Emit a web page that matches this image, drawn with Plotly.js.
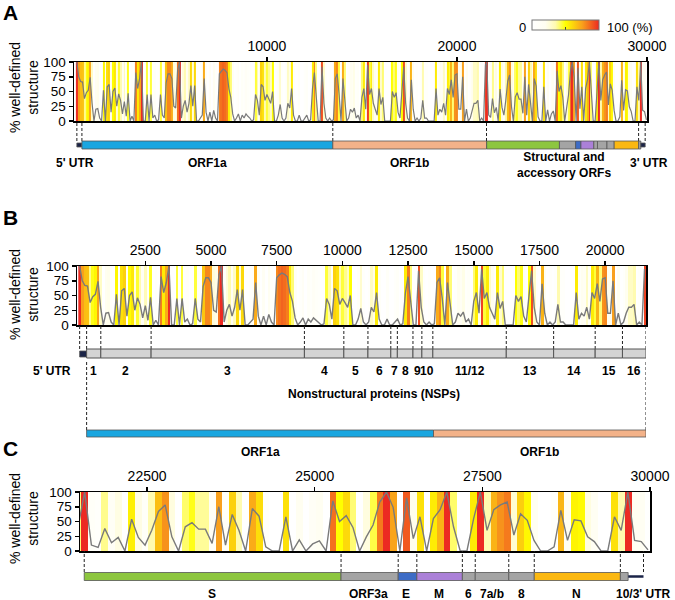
<!DOCTYPE html>
<html>
<head>
<meta charset="utf-8">
<script src="https://cdn.plot.ly/plotly-3.0.1.min.js"></script>
<style>
  body { margin: 0; background: #fff; }
  #chart { width: 675px; height: 600px; }
</style>
</head>
<body>
<div id="chart"></div>
<script>
// ---- data: % well-defined structure per 100-nt window ----
// panel B windows start at nt 0, panel C windows start at nt 21470
const binSize = 100;
const bStart = 0;
const cStart = 21470;

const bVals = [
  100, 75, 67, 66, 38, 48, 52, 74, 30, 0,
  20, 21, 5, 0, 52, 0, 58, 62, 15, 50,
  56, 25, 46, 35, 12, 33, 8, 47, 0, 8,
  0, 82, 55, 72, 100, 0, 0, 45, 0, 45,
  5, 10, 0, 2, 45, 10, 5, 65, 80, 80,
  72, 25, 22, 85, 100, 5, 25, 35, 15, 30,
  60, 25, 60, 0, 0, 5, 10, 72, 15, 0,
  15, 0, 18, 5, 0, 80, 85, 88, 86, 82,
  55, 40, 12, 0, 5, 12, 0, 10, 5, 12,
  8, 5, 0, 2, 45, 35, 10, 62, 58, 35,
  45, 38, 30, 50, 0, 0, 10, 28, 5, 0,
  5, 30, 22, 55, 10, 0, 0, 10, 0, 0,
  5, 10, 0, 2, 55, 82, 40, 0, 0, 92,
  30, 5, 0, 5, 0, 2, 72, 80, 45, 0,
  72, 40, 0, 5, 20, 15, 22, 5, 10, 0,
  40, 55, 20, 95, 45, 55, 30, 20, 10, 55,
  28, 40, 0, 0, 0, 0, 50, 40, 48, 15,
  5, 50, 92, 30, 5, 0, 70, 20, 0, 5,
  0, 5, 35, 5, 5, 0, 0, 0, 0, 55,
  10, 20, 15, 30, 10, 55, 45, 70, 40, 78,
  80, 20, 20, 75, 0, 20, 0, 5, 20, 30,
  30, 35, 0, 5, 0, 95
];

const cVals = [
  40, 100, 10, 6, 38, 14, 23, 0, 54, 23,
  10, 35, 67, 78, 24, 0, 41, 48, 37, 37,
  13, 75, 10, 62, 35, 0, 72, 59, 7, 0,
  0, 58, 0, 19, 0, 12, 17, 0, 85, 50,
  60, 40, 0, 24, 44, 83, 100, 74, 0, 90,
  21, 58, 0, 55, 70, 100, 41, 0, 0, 55,
  100, 35, 70, 78, 83, 27, 63, 52, 18, 0,
  0, 7, 69, 18, 53, 51, 24, 16, 0, 0,
  58, 35, 100, 18, 16, 2
];

// ---- genome annotation (nt) ----
const utr5 = [1, 265];
const utr3 = [29675, 29903];
const orfNames = ['ORF1a', 'ORF1b'];
const orfStart = [266, 13468];
const orfEnd = [13468, 21555];
const nspNames = ['1', '2', '3', '4', '5', '6', '7', '8', '9', '10', '11/12', '13', '14', '15', '16'];
const nspStart = [266, 806, 2720, 8555, 10055, 10973, 11843, 12092, 12686, 13025, 13442, 16237, 18040, 19621, 20659];
const nspEnd = 21555;
const sgNames = ['S', 'ORF3a', 'E', 'M', '6', '7a/b', '8', 'N', '10'];
const sgStart = [21563, 25393, 26245, 26523, 27202, 27394, 27894, 28274, 29558];
const sgEnd = [25384, 26220, 26472, 27191, 27387, 27887, 28259, 29533, 29674];

// tick labels
const aTicks = [10000, 20000, 30000];
const bTicks = [2500, 5000, 7500, 10000, 12500, 15000, 17500, 20000];
const cTicks = [22500, 25000, 27500, 30000];

// ---- styles ----
const sgColors = ['#8dc63f', '#a4a4a4', '#3d6cc6', '#ab80d8', '#a4a4a4', '#a4a4a4', '#a4a4a4', '#fbb812', '#a4a4a4'];
const orfColors = ['#1aa6e0', '#f3b289'];
const nspColor = '#d4d4d4';
const utrColor = '#1b2448';
const FONT = 'Liberation Sans, Arial, sans-serif';
const colorscale = [
  [0, '#ffffff'], [0.2, '#fffef0'], [0.35, '#fffbb0'], [0.5, '#ffff00'],
  [0.75, '#f9a01b'], [1, '#ec2a22']
];

const bPos = bVals.map((v, i) => bStart + i * binSize);
const cPos = cVals.map((v, i) => cStart + i * binSize);
const aPos = bPos.concat(cPos.slice(1));
const aVals = bVals.concat(cVals.slice(1));

// pixel -> paper helpers
const W = 675, H = 600;
const px = v => v / W;
const py = v => 1 - v / H;

function heat(x, z, xa, ya, showscale) {
  let t = {
    type: 'heatmap', x: x, y: [0, 100], z: [z],
    xaxis: xa, yaxis: ya, zmin: 0, zmax: 100,
    colorscale: colorscale, showscale: showscale, hoverinfo: 'skip'
  };
  if (showscale) {
    t.colorbar = {
      orientation: 'h', x: px(565), xanchor: 'center', y: py(34), yanchor: 'bottom',
      len: 67, lenmode: 'pixels', thickness: 10, thicknessmode: 'pixels',
      outlinewidth: 1, outlinecolor: '#777', xpad: 0, ypad: 0,
      tickvals: [50], ticks: 'inside', ticklen: 3, tickcolor: '#444', showticklabels: false
    };
  }
  return t;
}

function line(x, y, xa, ya, w) {
  return {
    type: 'scatter', mode: 'lines', x: x, y: y, xaxis: xa, yaxis: ya,
    line: { color: '#7a7a7a', width: w }, hoverinfo: 'skip'
  };
}

const traces = [
  heat(aPos, aVals, 'x', 'y', true), line(aPos, aVals, 'x', 'y', 1.2),
  heat(bPos, bVals, 'x2', 'y2', false), line(bPos, bVals, 'x2', 'y2', 1.4),
  heat(cPos, cVals, 'x3', 'y3', false), line(cPos, cVals, 'x3', 'y3', 1.4)
];

function xAxis(domain, range, ticks, anchor) {
  return {
    domain: domain, range: range, side: 'top', anchor: anchor, tickvals: ticks,
    tickformat: 'd',
    ticks: 'outside', ticklen: 4, tickwidth: 1.5, tickcolor: '#000',
    showline: true, linecolor: '#000', linewidth: 1.5, mirror: true,
    showgrid: false, zeroline: false, fixedrange: true,
    tickfont: { family: FONT, size: 14, color: '#000' }
  };
}
function yAxis(domain, anchor) {
  return {
    domain: domain, range: [0, 100], anchor: anchor, tickvals: [0, 25, 50, 75, 100],
    ticks: 'outside', ticklen: 4, tickwidth: 1.5, tickcolor: '#000',
    showline: true, linecolor: '#000', linewidth: 1.5, mirror: true,
    showgrid: false, zeroline: false, fixedrange: true,
    tickfont: { family: FONT, size: 13.5, color: '#000' }
  };
}

let shapes = [];
let annotations = [];

function dash(xref, x, yTop, yBot) {
  shapes.push({
    type: 'line', xref: xref, yref: 'paper', x0: x, x1: x, y0: py(yBot), y1: py(yTop),
    line: { color: '#222', width: 1, dash: '3px,2px' }
  });
}
function box(xref, x0, x1, yTop, yBot, fill, lw) {
  shapes.push({
    type: 'rect', xref: xref, yref: 'paper', x0: x0, x1: x1, y0: py(yBot), y1: py(yTop),
    fillcolor: fill, line: { color: '#555', width: lw === undefined ? 0.8 : lw }
  });
}
function label(xref, x, y, text, opts) {
  annotations.push(Object.assign({
    xref: xref, yref: 'paper', x: x, y: py(y), text: text, showarrow: false,
    xanchor: 'center', yanchor: 'middle',
    font: { family: FONT, size: 12, color: '#000', weight: 'bold' }
  }, opts || {}));
}

// ---------- panel A ----------
[utr5[0], orfStart[0], orfStart[1], orfEnd[1], sgStart[8], utr3[1]].forEach(v => dash('x', v, 121, 141));
box('x', utr5[0], utr5[1], 143, 147, utrColor);
for (let k = 0; k < orfNames.length; k++) box('x', orfStart[k], orfEnd[k], 141, 149, orfColors[k]);
for (let k = 0; k < sgNames.length; k++) {
  let e = k < sgNames.length - 1 ? sgStart[k + 1] : sgEnd[k];
  box('x', sgStart[k], e, 141, 149, sgColors[k]);
}
box('x', utr3[0], utr3[1], 143, 147, utrColor);
label('paper', px(75), 163, "5' UTR");
for (let k = 0; k < orfNames.length; k++) label('x', (orfStart[k] + orfEnd[k]) / 2, 163, orfNames[k]);
label('x', (sgStart[0] + sgEnd[8]) / 2, 164.5, 'Structural and<br>accessory ORFs');
label('paper', px(649), 163, "3' UTR");

// ---------- panel B ----------
[utr5[0]].concat(nspStart, [nspEnd]).forEach(v => dash('x2', v, 325, 349));
box('x2', utr5[0], utr5[1], 351, 357, utrColor);
for (let k = 0; k < nspNames.length; k++) {
  let e = k < nspNames.length - 1 ? nspStart[k + 1] : nspEnd;
  box('x2', nspStart[k], e, 349, 358, nspColor, 1);
  label('x2', (nspStart[k] + e) / 2, 371, nspNames[k]);
}
label('paper', px(52), 371, "5' UTR");
label('paper', px(374), 394, 'Nonstructural proteins (NSPs)');
[orfStart[0], orfEnd[1]].forEach(v => dash('x2', v, 360, 430));
for (let k = 0; k < orfNames.length; k++) {
  box('x2', orfStart[k], orfEnd[k], 430, 437, orfColors[k]);
  label('x2', (orfStart[k] + orfEnd[k]) / 2, 452, orfNames[k]);
}

// ---------- panel C ----------
sgStart.concat([utr3[1]]).forEach(v => dash('x3', v, 551, 572));
for (let k = 0; k < sgNames.length; k++) {
  let e = k < sgNames.length - 1 ? sgStart[k + 1] : sgEnd[k];
  box('x3', sgStart[k], e, 572.5, 580.5, sgColors[k]);
  if (k < sgNames.length - 1) label('x3', (sgStart[k] + sgEnd[k]) / 2, 594, sgNames[k]);
}
shapes.push({
  type: 'line', xref: 'x3', yref: 'paper', x0: utr3[0], x1: utr3[1], y0: py(576.5), y1: py(576.5),
  line: { color: utrColor, width: 2.5 }
});
label('paper', px(673), 594, "10/3' UTR", { xanchor: 'right' });

// panel letters and y titles
[['A', 12], ['B', 217], ['C', 448]].forEach(p => {
  label('paper', px(1), p[1], p[0], {
    xanchor: 'left', font: { family: FONT, size: 21, color: '#000', weight: 'bold' }
  });
});
[88, 295, 519].forEach(y => {
  label('paper', px(24), y, '% well-defined<br>structure', {
    textangle: -90, font: { family: FONT, size: 14, color: '#000' }
  });
});

// colour bar end labels
label('paper', px(522), 27, '0', { font: { family: FONT, size: 13, color: '#000' } });
label('paper', px(605), 27, '100 (%)', { xanchor: 'left', font: { family: FONT, size: 13, color: '#000' } });

const layout = {
  width: W, height: H,
  margin: { l: 0, r: 0, t: 0, b: 0, pad: 0 },
  paper_bgcolor: '#fff', plot_bgcolor: '#fff',
  showlegend: false, hovermode: false,
  xaxis: xAxis([px(74), px(647)], [-150, 30000], aTicks, 'y'),
  yaxis: yAxis([py(121), py(62)], 'x'),
  xaxis2: xAxis([px(77), px(646)], [-100, 21555], bTicks, 'y2'),
  yaxis2: yAxis([py(325), py(266)], 'x2'),
  xaxis3: xAxis([px(80), px(650)], [21500, 30000], cTicks, 'y3'),
  yaxis3: yAxis([py(551), py(492)], 'x3'),
  shapes: shapes,
  annotations: annotations
};

Plotly.newPlot('chart', traces, layout, { staticPlot: true, displayModeBar: false });
</script>
</body>
</html>
